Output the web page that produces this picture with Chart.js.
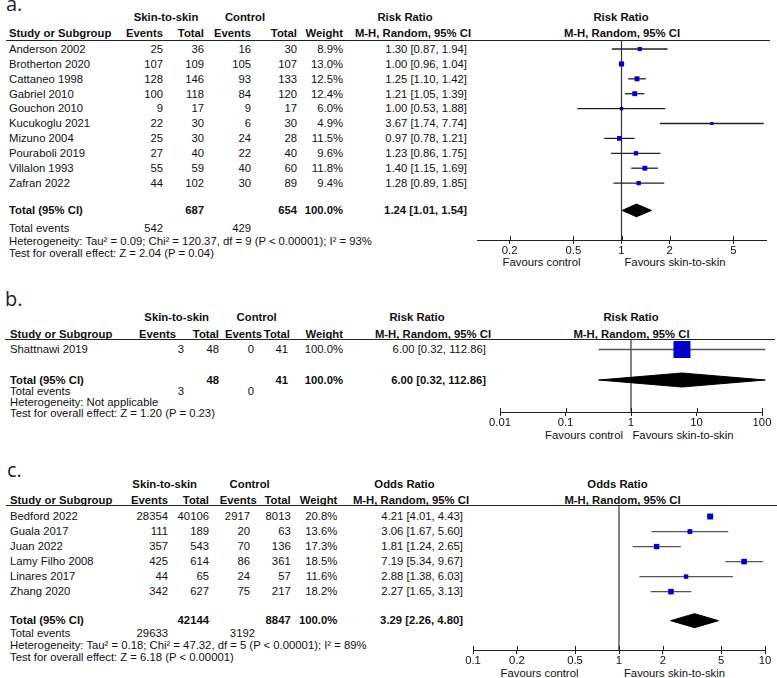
<!DOCTYPE html>
<html>
<head>
<meta charset="utf-8">
<script src="https://cdn.jsdelivr.net/npm/chart.js@4.4.0/dist/chart.umd.min.js"></script>
<style>
  html, body { margin: 0; padding: 0; background: #fff; }
  body { width: 777px; height: 678px; position: relative; overflow: hidden; font-family: 'Liberation Sans', Arial, sans-serif; }
  .t { position: absolute; font-size: 11.3px; line-height: 14px; color: #111; white-space: nowrap; }
  .b { font-weight: bold; }
  .lab { position: absolute; font-family: 'Open Sans', sans-serif; font-size: 20px; line-height: 24px; color: #222; }
  .rule { position: absolute; height: 1px; background: #222; }
  canvas { position: absolute; }
</style>
</head>
<body>
<div id="fig"></div>
<script>
// a. 皮肤接触 vs 对照 - Risk Ratio
const studiesA = ['Anderson 2002', 'Brotherton 2020', 'Cattaneo 1998', 'Gabriel 2010', 'Gouchon 2010',
                  'Kucukoglu 2021', 'Mizuno 2004', 'Pouraboli 2019', 'Villalon 1993', 'Zafran 2022'];
const skinEventsA = [25, 107, 128, 100, 9, 22, 25, 27, 55, 44];
const skinTotalA = [36, 109, 146, 118, 17, 30, 30, 40, 59, 102];
const ctlEventsA = [16, 105, 93, 84, 9, 6, 24, 22, 40, 30];
const ctlTotalA = [30, 107, 133, 120, 17, 30, 28, 40, 60, 89];
const weightA = [8.9, 13.0, 12.5, 12.4, 6.0, 4.9, 11.5, 9.6, 11.8, 9.4];
const ratioA = [1.30, 1.00, 1.25, 1.21, 1.00, 3.67, 0.97, 1.23, 1.40, 1.28];
const lowA = [0.87, 0.96, 1.10, 1.05, 0.53, 1.74, 0.78, 0.86, 1.15, 0.89];
const highA = [1.94, 1.04, 1.42, 1.39, 1.88, 7.74, 1.21, 1.75, 1.69, 1.85];
const pooledA = [1.24, 1.01, 1.54];
const sumTotalsA = [687, 654];
const sumEventsA = [542, 429];
const hetA = 'Heterogeneity: Tau² = 0.09; Chi² = 120.37, df = 9 (P < 0.00001); I² = 93%';
const testA = 'Test for overall effect: Z = 2.04 (P = 0.04)';
const ticksA = [0.2, 0.5, 1, 2, 5];
const tickLabelsA = ['0.2', '0.5', '1', '2', '5'];
const rangeA = [0.125, 8];

// b.
const studiesB = ['Shattnawi 2019'];
const skinEventsB = [3];
const skinTotalB = [48];
const ctlEventsB = [0];
const ctlTotalB = [41];
const weightB = [100.0];
const ratioB = [6.00];
const lowB = [0.32];
const highB = [112.86];
const pooledB = [6.00, 0.32, 112.86];
const sumTotalsB = [48, 41];
const sumEventsB = [3, 0];
const hetB = 'Heterogeneity: Not applicable';
const testB = 'Test for overall effect: Z = 1.20 (P = 0.23)';
const ticksB = [0.01, 0.1, 1, 10, 100];
const tickLabelsB = ['0.01', '0.1', '1', '10', '100'];
const rangeB = [0.01, 100];

// c. Odds Ratio
const studiesC = ['Bedford 2022', 'Guala 2017', 'Juan 2022', 'Lamy Filho 2008', 'Linares 2017', 'Zhang 2020'];
const skinEventsC = [28354, 111, 357, 425, 44, 342];
const skinTotalC = [40106, 189, 543, 614, 65, 627];
const ctlEventsC = [2917, 20, 70, 86, 24, 75];
const ctlTotalC = [8013, 63, 136, 361, 57, 217];
const weightC = [20.8, 13.6, 17.3, 18.5, 11.6, 18.2];
const ratioC = [4.21, 3.06, 1.81, 7.19, 2.88, 2.27];
const lowC = [4.01, 1.67, 1.24, 5.34, 1.38, 1.65];
const highC = [4.43, 5.60, 2.65, 9.67, 6.03, 3.13];
const pooledC = [3.29, 2.26, 4.80];
const sumTotalsC = [42144, 8847];
const sumEventsC = [29633, 3192];
const hetC = 'Heterogeneity: Tau² = 0.18; Chi² = 47.32, df = 5 (P < 0.00001); I² = 89%';
const testC = 'Test for overall effect: Z = 6.18 (P < 0.00001)';
const ticksC = [0.1, 0.2, 0.5, 1, 2, 5, 10];
const tickLabelsC = ['0.1', '0.2', '0.5', '1', '2', '5', '10'];
const rangeC = [0.1, 10];

const fig = document.getElementById('fig');

function put(text, x, y, align, bold) {
    const d = document.createElement('div');
    d.className = bold ? 't b' : 't';
    d.textContent = text;
    d.style.top = (y - 7) + 'px';
    if (align === 'l') {
        d.style.left = x + 'px';
    } else if (align === 'r') {
        d.style.right = (777 - x) + 'px';
    } else {
        d.style.left = x + 'px';
        d.style.transform = 'translateX(-50%)';
    }
    fig.appendChild(d);
}

const ciText = (e, l, h) => `${e.toFixed(2)} [${l.toFixed(2)}, ${h.toFixed(2)}]`;

/**
 * 画一个森林图面板：左侧表格 + 右侧 Chart.js 图
 */
function panel(p, L) {
    // 面板标签
    const lab = document.createElement('div');
    lab.className = 'lab';
    lab.textContent = L.label;
    lab.style.left = L.labelX + 'px';
    lab.style.top = (L.labelBase - 19.8) + 'px';
    fig.appendChild(lab);

    // 表头
    put('Skin-to-skin', L.skinC, L.h1, 'c', true);
    put('Control', L.ctlC, L.h1, 'c', true);
    put(p.measure, L.mC1, L.h1, 'c', true);
    put(p.measure, L.pC1, L.h1, 'c', true);
    put('Study or Subgroup', L.x0, L.h2, 'l', true);
    ['Events', 'Total', 'Events', 'Total', 'Weight'].forEach((h, i) => put(h, L.hCols[i], L.h2, 'r', true));
    put('M-H, Random, 95% CI', L.mC2, L.h2, 'c', true);
    put('M-H, Random, 95% CI', L.pC2, L.h2, 'c', true);

    const rule = document.createElement('div');
    rule.className = 'rule';
    rule.style.left = L.lineX0 + 'px';
    rule.style.width = (L.lineX1 - L.lineX0) + 'px';
    rule.style.top = (L.lineY - 0.5) + 'px';
    fig.appendChild(rule);

    // 研究行
    p.studies.forEach((s, i) => {
        const y = L.firstY + i * L.rowH;
        put(s, L.x0, y, 'l');
        [p.se[i], p.st[i], p.ce[i], p.ct[i]].forEach((v, k) => put(String(v), L.cols[k], y, 'r'));
        put(p.w[i].toFixed(1) + '%', L.cols[4], y, 'r');
        put(ciText(p.est[i], p.low[i], p.high[i]), L.ratioR, y, 'r');
    });

    // 合计
    put('Total (95% CI)', L.x0, L.totalY, 'l', true);
    put(String(p.sumTotals[0]), L.cols[1], L.totalY, 'r', true);
    put(String(p.sumTotals[1]), L.cols[3], L.totalY, 'r', true);
    put('100.0%', L.cols[4], L.totalY, 'r', true);
    put(ciText(p.pooled[0], p.pooled[1], p.pooled[2]), L.ratioR, L.totalY, 'r', true);
    put('Total events', L.x0, L.evY, 'l');
    put(String(p.sumEvents[0]), L.evCols[0], L.evY, 'r');
    put(String(p.sumEvents[1]), L.evCols[1], L.evY, 'r');
    put(p.het, L.x0, L.hetY, 'l');
    put(p.test, L.x0, L.testY, 'l');
    put('Favours control', L.fav1, L.favY, 'c');
    put('Favours skin-to-skin', L.fav2, L.favY, 'c');

    // 图
    const padL = 22, padR = 14, padT = 12, axisH = 22;
    const cv = document.createElement('canvas');
    cv.width = Math.round((L.axisR - L.axisL) + padL + padR);
    cv.height = Math.round(padT + (L.axisY - L.lineY) + axisH);
    cv.style.left = (L.axisL - padL) + 'px';
    cv.style.top = (L.lineY - padT) + 'px';
    fig.appendChild(cv);

    const rowVal = px => (px - L.firstY) / L.rowH;
    const ty = rowVal(L.totalY);
    const dh = L.diamondH / 2 / L.rowH;
    const [pe, pl, ph] = p.pooled;

    const datasets = [];
    datasets.push({
        data: p.est.map((v, i) => ({ x: v, y: i })),
        showLine: false,
        pointStyle: 'rect',
        pointRadius: p.w.map(w => L.sq * Math.sqrt(w) / Math.SQRT2),
        pointBackgroundColor: '#0000c8',
        pointBorderWidth: 0,
        clip: false
    });
    datasets.push({
        data: [{ x: pl, y: ty }, { x: pe, y: ty - dh }, { x: ph, y: ty }, { x: pe, y: ty + dh }, { x: pl, y: ty }],
        showLine: true,
        fill: 'shape',
        backgroundColor: '#000',
        borderColor: '#000',
        borderWidth: 1,
        pointRadius: 0,
        clip: false
    });
    p.est.forEach((v, i) => datasets.push({
        data: [{ x: p.low[i], y: i }, { x: p.high[i], y: i }],
        showLine: true,
        borderColor: L.ci,
        borderWidth: 1.3,
        pointRadius: 0,
        clip: false
    }));
    datasets.push({
        data: [{ x: 1, y: rowVal(L.lineY) }, { x: 1, y: rowVal(L.axisY) }],
        showLine: true,
        borderColor: '#333',
        borderWidth: 1.2,
        pointRadius: 0,
        clip: false
    });

    return new Chart(cv.getContext('2d'), {
        type: 'scatter',
        data: { datasets: datasets },
        options: {
            responsive: false,
            animation: false,
            events: [],
            layout: { padding: { left: padL, right: padR, top: padT, bottom: 0 } },
            plugins: { legend: { display: false }, tooltip: { enabled: false } },
            scales: {
                x: {
                    type: 'logarithmic',
                    min: p.range[0],
                    max: p.range[1],
                    position: 'bottom',
                    afterBuildTicks: s => { s.ticks = p.ticks.map(v => ({ value: v })); },
                    afterFit: s => { s.height = axisH; },
                    ticks: {
                        autoSkip: false,
                        maxRotation: 0,
                        padding: 0,
                        color: '#111',
                        font: { family: 'Liberation Sans', size: 11.3 },
                        callback: (v, i) => p.tickLabels[i]
                    },
                    grid: { display: true, drawOnChartArea: false, drawTicks: true, tickLength: 4, color: '#222', tickColor: '#222' },
                    border: { display: true, color: '#222', width: 1 }
                },
                y: {
                    type: 'linear',
                    display: false,
                    reverse: true,
                    min: rowVal(L.lineY),
                    max: rowVal(L.axisY)
                }
            }
        },
        plugins: [{
            id: 'upTicks',
            afterDraw(chart) {
                const s = chart.scales.x;
                const c = chart.ctx;
                c.save();
                c.strokeStyle = '#222';
                c.lineWidth = 1;
                p.ticks.forEach(v => {
                    const x = Math.round(s.getPixelForValue(v)) + 0.5;
                    c.beginPath();
                    c.moveTo(x, s.top - 4);
                    c.lineTo(x, s.top);
                    c.stroke();
                });
                c.restore();
            }
        }]
    });
}

panel({
    measure: 'Risk Ratio', studies: studiesA, se: skinEventsA, st: skinTotalA, ce: ctlEventsA, ct: ctlTotalA,
    w: weightA, est: ratioA, low: lowA, high: highA, pooled: pooledA, sumTotals: sumTotalsA, sumEvents: sumEventsA,
    het: hetA, test: testA, ticks: ticksA, tickLabels: tickLabelsA, range: rangeA
}, {
    label: 'a.', labelX: 6, labelBase: 12, x0: 9,
    h1: 17, h2: 33, lineY: 40, lineX0: 6, lineX1: 770,
    skinC: 166, ctlC: 245, mC1: 405, mC2: 413, pC1: 621, pC2: 622,
    hCols: [163, 204, 251, 297, 343], cols: [163, 204, 251, 297, 343], ratioR: 467, evCols: [163, 251],
    firstY: 49, rowH: 14.86, totalY: 210, evY: 228, hetY: 241, testY: 253,
    axisY: 239.5, axisL: 476.7, axisR: 766, favY: 262, fav1: 541.5, fav2: 675,
    diamondH: 12.7, sq: 1.4, ci: '#222'
});

panel({
    measure: 'Risk Ratio', studies: studiesB, se: skinEventsB, st: skinTotalB, ce: ctlEventsB, ct: ctlTotalB,
    w: weightB, est: ratioB, low: lowB, high: highB, pooled: pooledB, sumTotals: sumTotalsB, sumEvents: sumEventsB,
    het: hetB, test: testB, ticks: ticksB, tickLabels: tickLabelsB, range: rangeB
}, {
    label: 'b.', labelX: 5, labelBase: 307, x0: 10,
    h1: 317, h2: 334, lineY: 339.5, lineX0: 5, lineX1: 775,
    skinC: 176.7, ctlC: 256.7, mC1: 417, mC2: 433, pC1: 631, pC2: 631.5,
    hCols: [176, 219, 262, 290, 343], cols: [184, 219, 254, 288, 343], ratioR: 486, evCols: [184, 254],
    firstY: 349, rowH: 14.86, totalY: 379.5, evY: 390.5, hetY: 401.5, testY: 412.5,
    axisY: 411.5, axisL: 500, axisR: 762, favY: 435, fav1: 584, fav2: 683,
    diamondH: 14, sq: 1.7, ci: '#555'
});

panel({
    measure: 'Odds Ratio', studies: studiesC, se: skinEventsC, st: skinTotalC, ce: ctlEventsC, ct: ctlTotalC,
    w: weightC, est: ratioC, low: lowC, high: highC, pooled: pooledC, sumTotals: sumTotalsC, sumEvents: sumEventsC,
    het: hetC, test: testC, ticks: ticksC, tickLabels: tickLabelsC, range: rangeC
}, {
    label: 'c.', labelX: 7, labelBase: 478, x0: 10,
    h1: 484, h2: 500, lineY: 505.5, lineX0: 6, lineX1: 777,
    skinC: 164.7, ctlC: 249.7, mC1: 404.5, mC2: 411, pC1: 617.5, pC2: 622.5,
    hCols: [168, 209, 256.7, 290.7, 337.3], cols: [168, 209, 250, 290.7, 337.3], ratioR: 463, evCols: [168, 255],
    firstY: 516, rowH: 15, totalY: 620, evY: 633, hetY: 645, testY: 657,
    axisY: 649.3, axisL: 473.3, axisR: 765.3, favY: 672.7, fav1: 539.5, fav2: 674.5,
    diamondH: 14, sq: 1.3, ci: '#555'
});
</script>
</body>
</html>
